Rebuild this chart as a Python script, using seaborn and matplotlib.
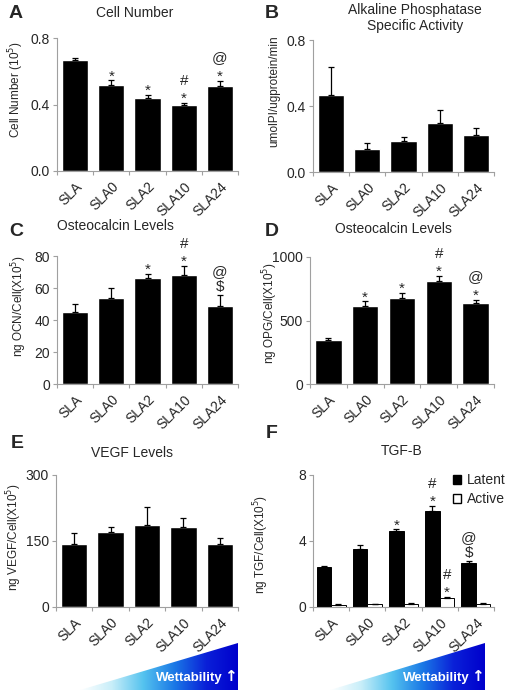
import numpy as np
import pandas as pd
import matplotlib
matplotlib.use("Agg")
import matplotlib.pyplot as plt
import seaborn as sns
from matplotlib.colors import LinearSegmentedColormap
from matplotlib.patches import Patch, Polygon

groups = ["SLA", "SLA0", "SLA2", "SLA10", "SLA24"]

cell_number = [0.665, 0.52, 0.44, 0.40, 0.51]
cell_number_err = [0.012, 0.025, 0.018, 0.012, 0.03]
cell_number_marks = ["", "*", "*", "*#", "*@"]

alp = [0.467, 0.14, 0.188, 0.30, 0.224]
alp_err = [0.17, 0.035, 0.025, 0.075, 0.04]

ocn = [45, 54, 66, 68, 49]
ocn_err = [5, 6, 3, 6, 6.5]
ocn_marks = ["", "", "*", "*#", "$@"]

opg = [345, 615, 680, 810, 635]
opg_err = [15, 35, 40, 40, 30]
opg_marks = ["", "*", "*", "*#", "*@"]

vegf = [143, 170, 186, 182, 143]
vegf_err = [25, 12, 41, 20, 13]

tgf_latent = [2.42, 3.5, 4.6, 5.8, 2.67]
tgf_latent_err = [0.08, 0.25, 0.1, 0.35, 0.13]
tgf_latent_marks = ["", "", "*", "*#", "$@"]
tgf_active = [0.15, 0.18, 0.2, 0.55, 0.2]
tgf_active_err = [0.02, 0.03, 0.03, 0.05, 0.02]
tgf_active_marks = ["", "", "", "*#", ""]

sns.set_style("white")
plt.rcParams["font.family"] = ["Liberation Sans", "DejaVu Sans"]

W, H = 508, 690
fig = plt.figure(figsize=(W / 100, H / 100), dpi=100)
SPINE = "#a0a0a0"
# vertical centre of each glyph above its baseline, in pixels (11pt)
GLYPH_MID = {"*": 9, "#": 5, "$": 5, "@": 4}


def add_axes(l, t, r, b):
    return fig.add_axes([l / W, 1 - b / H, (r - l) / W, (b - t) / H])


def fig_text(x, y, s, **kw):
    fig.text(x / W, 1 - y / H, s, **kw)


def style(ax, yticks, labels, ylabel, label_xy):
    ax.set_xlim(-0.5, 4.5)
    ax.set_ylim(0, yticks[-1])
    ax.set_yticks(yticks)
    ax.set_yticklabels(labels)
    ax.set_xticks(range(len(groups)))
    ax.set_xticklabels(groups, rotation=45, ha="right", rotation_mode="anchor")
    ax.set_xticks(np.arange(-0.5, 5, 1), minor=True)
    ax.tick_params(axis="x", which="major", length=0, labelsize=10, pad=6)
    ax.tick_params(axis="x", which="minor", length=3, color=SPINE, width=0.8)
    ax.tick_params(axis="y", length=3, color=SPINE, width=0.8, labelsize=10, pad=2)
    ax.tick_params(left=True, bottom=True, which="both", direction="out")
    for side in ["top", "right"]:
        ax.spines[side].set_visible(False)
    for side in ["left", "bottom"]:
        ax.spines[side].set_color(SPINE)
        ax.spines[side].set_linewidth(0.8)
    ax.set_xlabel("")
    ax.set_ylabel(ylabel, fontsize=8.5)
    ax.yaxis.set_label_coords(*label_xy)


def add_errors(ax, bars, values, errs, marks=None):
    xs = [p.get_x() + p.get_width() / 2 for p in bars]
    ax.errorbar(xs, values, yerr=[np.zeros(len(errs)), errs], fmt="none",
                ecolor="black", elinewidth=0.9, capsize=2.5, capthick=0.9)
    if marks is None:
        return
    for x, v, e, m in zip(xs, values, errs, marks):
        for i, s in enumerate(m):
            target = 9 + 14 * i
            ax.annotate(s, (x, v + e), xytext=(0, target - GLYPH_MID[s]),
                        textcoords="offset pixels", ha="center", va="baseline",
                        fontsize=11, annotation_clip=False)


def simple_panel(box, values, errs, marks, yticks, labels, ylabel, label_xy):
    ax = add_axes(*box)
    df = pd.DataFrame({"group": groups, "value": values})
    sns.barplot(data=df, x="group", y="value", color="black", saturation=1,
                width=0.72, errorbar=None, ax=ax)
    add_errors(ax, ax.containers[0], values, errs, marks)
    style(ax, yticks, labels, ylabel, label_xy)
    return ax


simple_panel((57, 38, 238, 171), cell_number, cell_number_err, cell_number_marks,
             [0, 0.4, 0.8], ["0.0", "0.4", "0.8"], "Cell Number (10$^5$)", (-0.171, 0.61))
simple_panel((313, 40, 494, 172), alp, alp_err, None,
             [0, 0.4, 0.8], ["0.0", "0.4", "0.8"], "umolPI/ugprotein/min", (-0.182, 0.61))
simple_panel((57, 256, 238, 384), ocn, ocn_err, ocn_marks,
             [0, 20, 40, 60, 80], ["0", "20", "40", "60", "80"], "ng OCN/Cell(X10$^5$)", (-0.155, 0.61))
simple_panel((310, 257, 494, 384), opg, opg_err, opg_marks,
             [0, 500, 1000], ["0", "500", "1000"], "ng OPG/Cell(X10$^5$)", (-0.163, 0.56))
simple_panel((56, 475, 238, 607), vegf, vegf_err, None,
             [0, 150, 300], ["0", "150", "300"], "ng VEGF/Cell(X10$^5$)", (-0.178, 0.53))

# TGF-B grouped bars
axf = add_axes(313, 475, 494, 607)
tgf = pd.DataFrame({
    "group": groups * 2,
    "form": ["Latent"] * 5 + ["Active"] * 5,
    "value": tgf_latent + tgf_active,
})
sns.barplot(data=tgf, x="group", y="value", hue="form", palette={"Latent": "black", "Active": "white"},
            edgecolor="black", linewidth=0.7, saturation=1, width=0.8, errorbar=None,
            legend=False, ax=axf)
add_errors(axf, axf.containers[0], tgf_latent, tgf_latent_err, tgf_latent_marks)
add_errors(axf, axf.containers[1], tgf_active, tgf_active_err, tgf_active_marks)
style(axf, [0, 4, 8], ["0", "4", "8"], "ng TGF/Cell(X10$^5$)", (-0.232, 0.47))
axf.legend(handles=[Patch(facecolor="black", edgecolor="black", label="Latent"),
                    Patch(facecolor="white", edgecolor="black", label="Active")],
           loc="upper left", bbox_to_anchor=(0.773, 1.015), frameon=False, fontsize=10,
           handlelength=0.6, handleheight=0.6, handletextpad=0.4, labelspacing=0.36,
           borderaxespad=0, borderpad=0)

# panel letters and titles
for letter, x, y in [("A", 16, 14), ("B", 272, 14), ("C", 16, 232), ("D", 272, 232),
                     ("E", 17, 443), ("F", 272, 433)]:
    fig_text(x, y, letter, fontsize=14, fontweight="bold", ha="center", va="center")
for title, x, y in [("Cell Number", 135, 13), ("Alkaline Phosphatase\nSpecific Activity", 415, 18),
                    ("Osteocalcin Levels", 115, 226), ("Osteocalcin Levels", 393, 229),
                    ("VEGF Levels", 132, 453), ("TGF-B", 402, 451)]:
    fig_text(x, y, title, fontsize=10, ha="center", va="center", linespacing=1.1)

# wettability wedges
wet_cmap = LinearSegmentedColormap.from_list(
    "wet", ["#ffffff", "#c8eef9", "#55c3ef", "#1a78e6", "#0a20d8", "#0000cc"])
for x0, x1 in [(80, 238), (330, 485)]:
    wax = add_axes(x0, 643, x1, 690)
    wax.axis("off")
    im = wax.imshow(np.linspace(0, 1, 256)[None, :], cmap=wet_cmap, aspect="auto",
                    extent=(0, 1, 0, 1))
    im.set_clip_path(Polygon([(0, 0), (1, 1), (1, 0)], transform=wax.transAxes))
    wax.set_xlim(0, 1)
    wax.set_ylim(0, 1)
    wax.text(0.99, 0.2, "\u2191", transform=wax.transAxes, ha="right", va="baseline",
             color="white", fontsize=11, fontweight="bold", family=["DejaVu Sans"])
    wax.annotate("Wettability", (0.99, 0.2), xycoords="axes fraction", xytext=(-14, 0),
                 textcoords="offset pixels", ha="right", va="baseline",
                 color="white", fontsize=9.5, fontweight="bold")

fig.savefig("out.png", dpi=100)
